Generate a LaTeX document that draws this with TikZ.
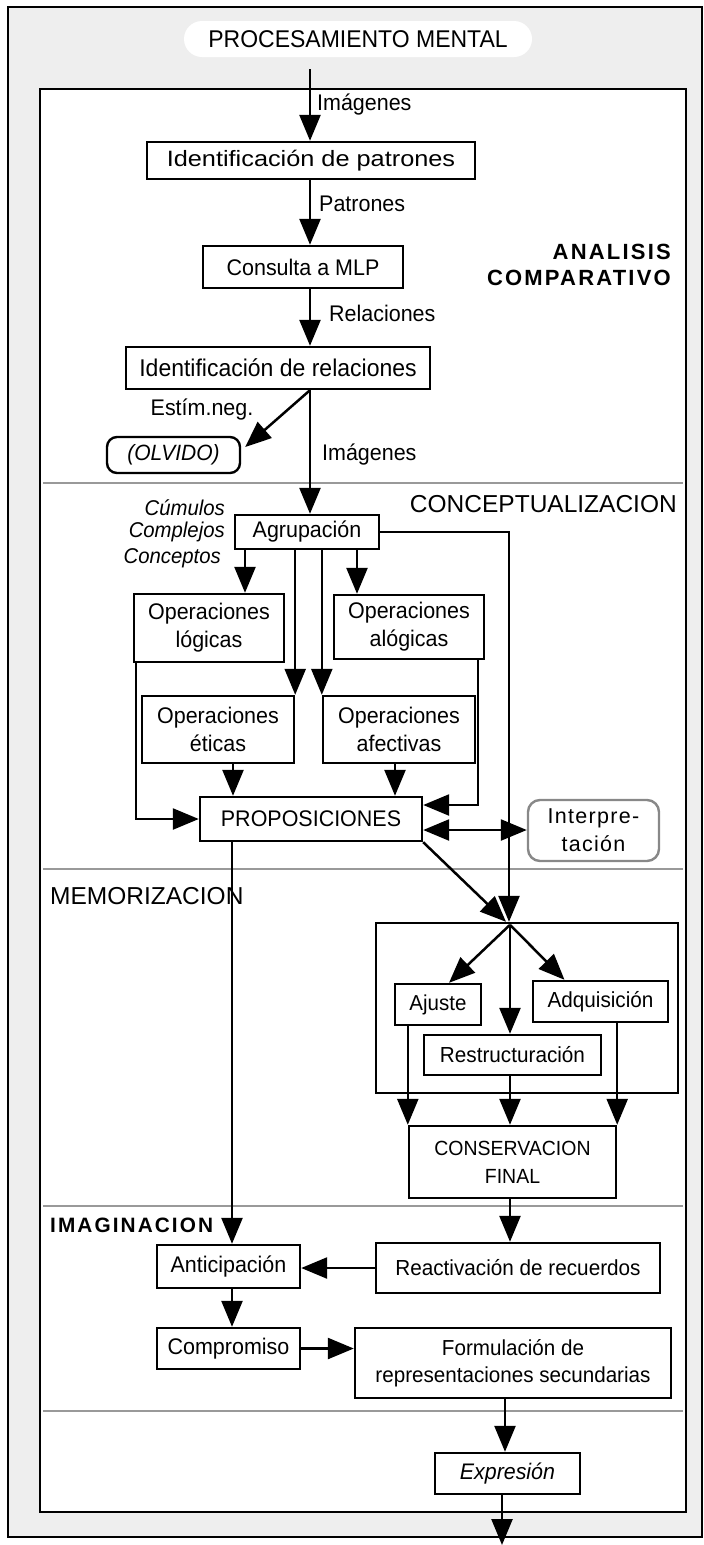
\documentclass[tikz,border=0pt]{standalone}
\usepackage{fontspec}
\setmainfont{Liberation Sans}[FakeStretch=0.95]
\newfontfamily\plainfont{Liberation Sans}
\newfontfamily\widefont{Liberation Sans}[FakeStretch=1.14]
\newfontfamily\spacedfont{Liberation Sans}[LetterSpace=10]
\newfontfamily\lightspaced{Liberation Sans}[LetterSpace=6]
\usetikzlibrary{arrows.meta}
\definecolor{outergray}{HTML}{EEEEEE}
\definecolor{sepgray}{HTML}{999999}
\definecolor{interpgray}{HTML}{888888}
\begin{document}
\begin{tikzpicture}[x=1pt,y=-1pt,
  every node/.style={font=\fontsize{22.6}{28}\selectfont, inner sep=0pt},
  box/.style={draw, line width=2.4pt, fill=white, align=center},
  link/.style={line width=2.5pt, -{Triangle[length=26pt,width=21pt]}},
  dlink/.style={line width=2.5pt, {Triangle[length=26pt,width=21pt]}-{Triangle[length=26pt,width=21pt]}},
  sepline/.style={draw=sepgray, line width=2.5pt},
  lbl/.style={anchor=west},
  section/.style={font=\plainfont\fontsize{24.5}{28}\selectfont},
  boldsection/.style={font=\spacedfont\bfseries\fontsize{22}{26}\selectfont, align=right},
  itlbl/.style={anchor=east, font=\itshape\fontsize{21.4}{24}\selectfont},
]
\useasboundingbox (0,0) rectangle (704,1545);
% frames
\draw[line width=2.5pt, fill=outergray] (8,7) rectangle (702,1537);
\draw[line width=2.5pt, fill=white] (40,89) rectangle (686,1512);
% separators
\draw[sepline] (43,483) -- (683,483);
\draw[sepline] (43,869) -- (683,869);
\draw[sepline] (43,1206) -- (683,1206);
\draw[sepline] (43,1411) -- (683,1411);

% title
\node[fill=white, rounded corners=18pt, minimum width=348pt, minimum height=36pt, font=\fontsize{24.2}{28}\selectfont] (title) at (358,39) {PROCESAMIENTO MENTAL};

% section labels
\node[boldsection, anchor=east] (secA) at (671,265) {ANALISIS\\COMPARATIVO};
\node[section, anchor=east] (secC) at (677,504) {CONCEPTUALIZACION};
\node[section, anchor=west] (secM) at (50,896) {MEMORIZACION};
\node[boldsection, anchor=west, font=\spacedfont\bfseries\fontsize{20.8}{26}\selectfont] (secI) at (50,1225) {IMAGINACION};

% analysis boxes
\node[box, minimum width=328pt, minimum height=37pt, font=\widefont\fontsize{22.2}{28}\selectfont] (b1) at (311,160.5) {Identificación de patrones};
\node[box, minimum width=200pt, minimum height=42pt] (b2) at (303,267) {Consulta a MLP};
\node[box, minimum width=304pt, minimum height=42pt, font=\fontsize{24.2}{28}\selectfont] (b3) at (278,368) {Identificación de relaciones};
\node[box, rounded corners=10pt, minimum width=133pt, minimum height=36pt, font=\itshape\fontsize{22.1}{28}\selectfont] (olvido) at (173.5,455) {(OLVIDO)};

% conceptualization
\node[box, minimum width=144pt, minimum height=34pt] (agrup) at (307,532) {Agrupación};
\node[itlbl] (cum) at (225,508) {Cúmulos};
\node[itlbl] (comp) at (225,532) {Complejos};
\node[itlbl] (conc) at (221,558) {Conceptos};
\node[box, minimum width=150pt, minimum height=68pt] (oplog) at (209,628) {Operaciones\\lógicas};
\node[box, minimum width=150pt, minimum height=64pt] (opalog) at (409,627) {Operaciones\\alógicas};
\node[box, minimum width=152pt, minimum height=67pt] (opet) at (218,729.5) {Operaciones\\éticas};
\node[box, minimum width=152pt, minimum height=67pt] (opaf) at (399,729.5) {Operaciones\\afectivas};
\node[box, minimum width=222pt, minimum height=44pt] (prop) at (311,819) {PROPOSICIONES};
\node[draw=interpgray, fill=white, line width=2.4pt, rounded corners=12pt, minimum width=131pt, minimum height=61pt, align=center, font=\lightspaced\fontsize{21.5}{28}\selectfont] (interp) at (593.5,830.5) {Interpre-\\tación};

% memorization
\node[draw, line width=2.4pt, minimum width=302pt, minimum height=170pt] (mem) at (527,1008) {};
\node[box, minimum width=86pt, minimum height=41pt, font=\fontsize{21.6}{28}\selectfont] (ajuste) at (438,1004.5) {Ajuste};
\node[box, minimum width=135pt, minimum height=41pt, font=\fontsize{21.8}{28}\selectfont] (adq) at (600.5,1001.5) {Adquisición};
\node[box, minimum width=177pt, minimum height=40pt, font=\fontsize{21.8}{28}\selectfont] (restr) at (512.5,1055) {Restructuración};
\node[box, minimum width=207pt, minimum height=72pt, font=\fontsize{20.5}{28}\selectfont] (cons) at (512.5,1162) {CONSERVACION\\FINAL};

% imagination
\node[box, minimum width=143pt, minimum height=43pt] (antic) at (228.5,1266.5) {Anticipación};
\node[box, minimum width=284pt, minimum height=50pt, font=\fontsize{21.8}{28}\selectfont] (react) at (518,1268) {Reactivación de recuerdos};
\node[box, minimum width=143pt, minimum height=41pt] (compr) at (228.5,1348.5) {Compromiso};
\node[box, minimum width=316pt, minimum height=70pt, font=\fontsize{21.7}{27.5}\selectfont] (formul) at (513,1363) {Formulación de\\representaciones secundarias};
\node[box, minimum width=145pt, minimum height=41pt, font=\itshape\fontsize{22.5}{28}\selectfont] (expr) at (507.5,1473.5) {Expresión};

% column coordinates
\coordinate (s0) at (310,69);
\coordinate (x245) at (245,0);
\coordinate (x357) at (357,0);
\coordinate (x136) at (136,0);
\coordinate (x478) at (478,0);
\coordinate (x233) at (233,0);
\coordinate (x395) at (395,0);
\coordinate (xm) at (510,0);
\coordinate (xp) at (232,0);
\coordinate (xe) at (505,0);
\coordinate (xo) at (502,0);
\coordinate (meet) at (mem.north -| xm);
\coordinate (fan) at ([yshift=-3pt]meet);
\coordinate (out) at (502,1545);

% analysis connectors
\draw[link] (s0) -- (s0 |- b1.north);
\node[lbl] (l1) at (317,105) {Imágenes};
\draw[link] (b1.south -| s0) -- (b2.north -| s0);
\node[lbl] (l2) at (319,204) {Patrones};
\draw[link] (b2.south -| s0) -- (b3.north -| s0);
\node[lbl] (l3) at (329,313) {Relaciones};
\draw[link] (b3.south -| s0) -- ([xshift=4pt,yshift=8pt]olvido.east);
\node (l4) at (202,410) {Estím.neg.};
\draw[link] (b3.south -| s0) -- (agrup.north -| s0);
\node[lbl] (l5) at (322,455) {Imágenes};

% conceptualization connectors
\draw[link] (agrup.south -| x245) -- (oplog.north -| x245);
\draw[link] (agrup.south -| x357) -- (opalog.north -| x357);
\draw[link] (agrup.south -| opet.east) -- (opet.north east);
\draw[link] (agrup.south -| opaf.west) -- (opaf.north west);
\draw[link] (agrup.east) -| ([xshift=-1pt]meet);
\draw[link] (opet.south -| x233) -- (prop.north -| x233);
\draw[link] (opaf.south -| x395) -- (prop.north -| x395);
\draw[link] (oplog.south -| x136) |- (prop.west);
\draw[link] (opalog.south -| x478) |- ([yshift=14pt]prop.east);
\draw[dlink] ([yshift=-11pt]prop.east) -- ([yshift=-11pt]prop.east -| interp.west);
\draw[link] (prop.south east) -- ([xshift=-4pt]meet);
\draw[link] (prop.south -| xp) -- (antic.north -| xp);

% memorization connectors
\draw[link] (fan) -- ([xshift=11pt]ajuste.north);
\draw[link] (fan) -- ([xshift=-36pt]adq.north);
\draw[link] (fan) -- (restr.north -| fan);
\draw[link] (ajuste.south -| cons.west) -- (cons.north west);
\draw[link] (restr.south -| xm) -- (cons.north -| xm);
\draw[link] (adq.south -| cons.east) -- (cons.north east);

% imagination connectors
\draw[link] (cons.south -| xm) -- (react.north -| xm);
\draw[link] (react.west) -- (react.west -| antic.east);
\draw[link] (antic.south -| xp) -- (compr.north -| xp);
\draw[link] (compr.east) -- (compr.east -| formul.west);
\draw[link] (formul.south -| xe) -- (expr.north -| xe);
\draw[link] (expr.south -| xo) -- (out);
\end{tikzpicture}
\end{document}
